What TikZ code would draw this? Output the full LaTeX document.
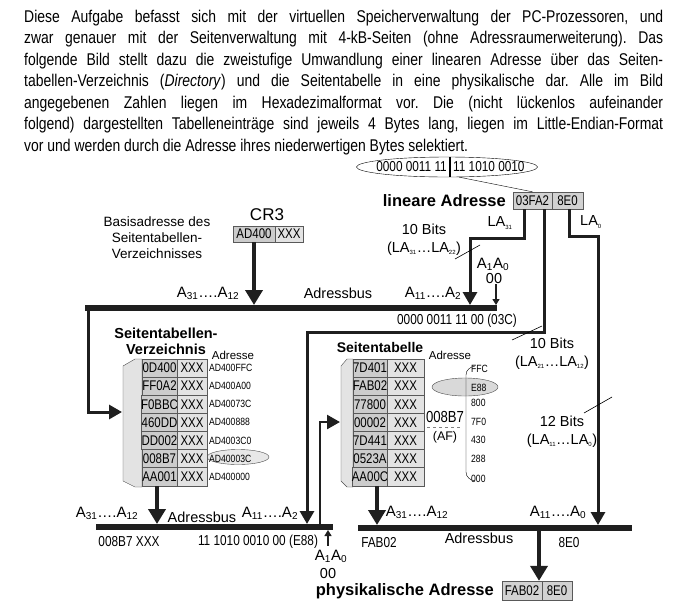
\documentclass[tikz,border=0pt]{standalone}
\usepackage{fontspec}
\setmainfont{Liberation Sans}
\newfontfamily\narrowfont{Liberation Sans}[FakeStretch=0.82]
\usetikzlibrary{arrows.meta,shapes.geometric}
\newcommand{\lai}[1]{\textsubscript{\fontsize{6}{6}\selectfont #1}}
\newcommand{\ai}[1]{\textsubscript{\fontsize{10}{10}\selectfont #1}}
\frenchspacing

\begin{document}
\begin{tikzpicture}[x=1pt,y=-1pt,
    every node/.style={inner sep=0pt},
    val/.style={font=\narrowfont\fontsize{14.4}{16}\selectfont},
    lbl/.style={font=\fontsize{14.5}{16}\selectfont},
    adr/.style={font=\narrowfont\fontsize{10.5}{12}\selectfont, anchor=west},
    head/.style={font=\bfseries\fontsize{16.5}{18}\selectfont},
    cellA/.style={font=\narrowfont\fontsize{14}{16}\selectfont, draw=black!65, fill=gray!40, minimum height=18.1pt},
    cellB/.style={cellA, fill=gray!22},
    panel/.style={draw=black!70, fill=gray!22},
    bus/.style={line width=6pt, draw=black!88},
    feed/.style={line width=4pt, draw=black!88, -{Triangle[length=15pt,width=17pt]}},
    lafeed/.style={line width=3pt, draw=black!88, -{Triangle[length=13pt,width=14pt]}},
    pin/.style={line width=1.3pt, draw=black!88, -{Triangle[length=6pt,width=7pt]}},
    tick/.style={line width=0.6pt}]
  \useasboundingbox (0,0) rectangle (690,606);

  \node[anchor=base west, text width=639pt, align=justify,
        font=\narrowfont\fontsize{17}{21.5}\selectfont] (task) at (24,22)
    {Diese Aufgabe befasst sich mit der virtuellen Speicherverwaltung der PC-Prozessoren, und\linebreak
     zwar genauer mit der Seitenverwaltung mit 4-kB-Seiten (ohne Adressraumerweiterung). Das\linebreak
     folgende Bild stellt dazu die zweistufige Umwandlung einer linearen Adresse über das Seiten-\linebreak
     tabellen-Verzeichnis (\textit{Directory}) und die Seitentabelle in eine physikalische dar. Alle im Bild\linebreak
     angegebenen Zahlen liegen im Hexadezimalformat vor. Die (nicht lückenlos aufeinander\linebreak
     folgend) dargestellten Tabelleneinträge sind jeweils 4 Bytes lang, liegen im Little-Endian-Format\linebreak
     vor und werden durch die Adresse ihres niederwertigen Bytes selektiert.};

  % lineare Adresse
  \node[ellipse, draw, fill=white, minimum width=181pt, minimum height=20pt] (bits) at (447,167) {};
  \node[val, anchor=east] (bitsL) at (447,167) {0000 0011 11};
  \node[val, anchor=west] (bitsR) at (453,167) {11 1010 0010};
  \draw[line width=2.5pt] (450,157) -- (450,177);
  \node[cellA, fill=gray!35, minimum width=39pt, minimum height=17pt] (la1) at (532.5,200.5) {03FA2};
  \node[cellA, fill=gray!35, minimum width=31pt, minimum height=17pt] (la2) at (567.5,200.5) {8E0};
  \draw[thin] (bits.-40) -- (la1.north);
  \node[head, anchor=east] (lin) at (506,201) {lineare Adresse};
  \node[lbl] (la31) at (500,223) {LA\lai{31}};
  \node[lbl] (la0) at (591,222) {LA\lai{0}};
  \node[lbl, align=center] (bitsD) at (424,240) {10 Bits\\[2pt](LA\lai{31}\dots LA\lai{22})};
  \node[lbl, align=center] (bitsT) at (552,354) {10 Bits\\[2pt](LA\lai{21}\dots LA\lai{12})};
  \node[lbl, align=center] (bitsO) at (562,432) {12 Bits\\[2pt](LA\lai{11}\dots LA\lai{0})};

  % CR3
  \node[lbl, font=\fontsize{17}{18}\selectfont] (cr3) at (267,215) {CR3};
  \node[cellA, minimum width=42pt, minimum height=16pt] (cr1) at (254,234) {AD400};
  \node[cellB, minimum width=28pt, minimum height=16pt] (cr2) at (289,234) {XXX};
  \node[lbl, align=center, font=\fontsize{13.5}{16}\selectfont] (basis) at (157,238)
    {Basisadresse des\\Seitentabellen-\\Verzeichnisses};

  % oberer Adressbus
  \coordinate (busA-w) at (85,308);
  \coordinate (busA-e) at (497,308);
  \draw[bus] (busA-w) -- (busA-e);
  \node[lbl, font=\fontsize{15}{16}\selectfont] (ahA) at (208,293) {A\ai{31}\dots.A\ai{12}};
  \node[lbl] (busAname) at (338,293) {Adressbus};
  \node[lbl, font=\fontsize{15}{16}\selectfont] (alA) at (433,293) {A\ai{11}\dots.A\ai{2}};
  \node[lbl, font=\fontsize{15}{16}\selectfont] (a1A) at (493,264) {A\ai{1}A\ai{0}};
  \node[lbl] (z1) at (494,279) {00};
  \node[val] (offval) at (457,321) {0000 0011 11 00 (03C)};

  % Seitentabellen-Verzeichnis
  \node[head, align=center, font=\bfseries\fontsize{14.5}{16}\selectfont] (dirname) at (166,341)
    {Seitentabellen-\\Verzeichnis};
  \node[lbl, font=\fontsize{11.5}{12}\selectfont] (dadr) at (233,355) {Adresse};
  \draw[panel] (123,366) -- (135,359) -- (142,359) -- (142,487) -- (135,487) -- (123,481) -- cycle;
  \node[ellipse, draw=black!70, fill=gray!18, minimum width=62pt, minimum height=15pt] (selD) at (238,457) {};
  \foreach \v/\a [count=\i] in {0D400/AD400FFC, FF0A2/AD400A00, F0BBC/AD40073C, 460DD/AD400888,
                                DD002/AD4003C0, 008B7/AD40003C, AA001/AD400000} {
    \node[cellA, minimum width=35pt] (d\i) at (159.5,{359+18.1*(\i-0.5)}) {\v};
    \node[cellB, minimum width=30pt] (dx\i) at (192,{359+18.1*(\i-0.5)}) {XXX};
    \node[adr] (da\i) at (209,{359+18.1*(\i-0.5)}) {\a};
  }

  % Seitentabelle
  \node[head, font=\bfseries\fontsize{14}{16}\selectfont] (ptname) at (380,347) {Seitentabelle};
  \node[lbl, font=\fontsize{11.5}{12}\selectfont] (padr) at (450,355) {Adresse};
  \draw[panel] (341,366) -- (347,359) -- (353,359) -- (353,487) -- (347,487) -- (341,481) -- cycle;
  \foreach \v [count=\i] in {7D401,FAB02,77800,00002,7D441,0523A,AA00C} {
    \node[cellA, minimum width=34pt] (p\i) at (370,{359+18.1*(\i-0.5)}) {\v};
    \node[cellB, minimum width=37pt] (px\i) at (405.5,{359+18.1*(\i-0.5)}) {XXX};
  }
  \node[ellipse, draw=black!70, fill=gray!30, minimum width=66pt, minimum height=18pt] (selP) at (465,387) {};
  \draw[thin] (475,366) to[out=190,in=90] (466,375) -- (466,472) to[out=-90,in=170] (475,481);
  \foreach \a/\y [count=\i] in {FFC/369, E88/388, 800/403, 7F0/422, 430/440, 288/459, 000/479}
    \node[adr] (pa\i) at (471,\y) {\a};
  \node[val, font=\narrowfont\fontsize{16}{16}\selectfont] (frac) at (445,417) {008B7};
  \draw[gray, dashed, line width=0.8pt] (427,427) -- (463,427);
  \node[lbl, font=\fontsize{12.5}{14}\selectfont] (af) at (445,437) {(AF)};

  % unterer Adressbus links
  \coordinate (busB-w) at (96,527);
  \coordinate (busB-e) at (333,527);
  \draw[bus] (busB-w) -- (busB-e);
  \node[lbl, font=\fontsize{15}{16}\selectfont] (ahB) at (107,513) {A\ai{31}\dots.A\ai{12}};
  \node[lbl] (busBname) at (202,517) {Adressbus};
  \node[lbl, font=\fontsize{15}{16}\selectfont] (alB) at (270,513) {A\ai{11}\dots.A\ai{2}};
  \node[val] (entval) at (129,542) {008B7 XXX};
  \node[val] (offvalB) at (258,542) {11 1010 0010 00 (E88)};
  \node[lbl, font=\fontsize{15}{16}\selectfont] (a1B) at (331,556) {A\ai{1}A\ai{0}};
  \node[lbl] (z2) at (328,573) {00};

  % unterer Adressbus rechts
  \coordinate (busC-w) at (358,528);
  \coordinate (busC-e) at (632,528);
  \draw[bus] (busC-w) -- (busC-e);
  \node[lbl, font=\fontsize{15}{16}\selectfont] (ahC) at (417,512) {A\ai{31}\dots.A\ai{12}};
  \node[lbl, font=\fontsize{15}{16}\selectfont] (alC) at (558,512) {A\ai{11}\dots.A\ai{0}};
  \node[val] (frame) at (379,543) {FAB02};
  \node[lbl] (busCname) at (479,538) {Adressbus};
  \node[val] (offC) at (569,543) {8E0};

  % physikalische Adresse
  \node[cellA, fill=gray!35, minimum width=40pt, minimum height=19pt] (pa1) at (522,590.5) {FAB02};
  \node[cellA, fill=gray!35, minimum width=30pt, minimum height=19pt] (pa2) at (557,590.5) {8E0};
  \node[head, anchor=east] (phys) at (494,591) {physikalische Adresse};

  % Verbindungen
  \coordinate (cr3in) at (254,305);
  \coordinate (dirin) at (122,412);
  \coordinate (dirbus) at (157,524);
  \coordinate (bend1) at (470,238);
  \coordinate (offA) at (470,305);
  \coordinate (bend2) at (307,332);
  \coordinate (offB) at (307,524);
  \coordinate (bend3) at (598,236);
  \coordinate (offCin) at (598,525);
  \coordinate (ptsrc) at (320,524);
  \coordinate (ptin) at (340,422);
  \coordinate (ptbus) at (377,525);
  \coordinate (physsrc) at (539,531);
  \coordinate (pinA) at (496,305);
  \coordinate (pinB) at (328,530);
  \draw[feed] (cr1.south) -- (cr3in);
  \draw[lafeed] ([xshift=3pt]busA-w) |- (dirin);
  \draw[feed] ([xshift=-2.5pt]d7.south) -- (dirbus);
  \draw[lafeed] ([xshift=-8.5pt]la1.south) |- (bend1) -- (offA);
  \draw[lafeed] ([xshift=11.5pt]la1.south) |- (bend2) -- (offB);
  \draw[lafeed] ([xshift=1.5pt]la2.south) |- (bend3) -- (offCin);
  \draw[lafeed, line width=2.5pt] (ptsrc) |- (ptin);
  \draw[feed] ([xshift=7pt]p7.south) -- (ptbus);
  \draw[feed] (physsrc) -- (physsrc |- pa1.north);
  \draw[pin] (z1.south -| pinA) -- (pinA);
  \draw[pin] ([yshift=4pt]a1B.north -| pinB) -- (pinB);
  \draw[tick] (455,259) -- (480,245);
  \draw[tick] (512,340) -- (542,326);
  \draw[tick] (584,413) -- (612,397);
\end{tikzpicture}
\end{document}
